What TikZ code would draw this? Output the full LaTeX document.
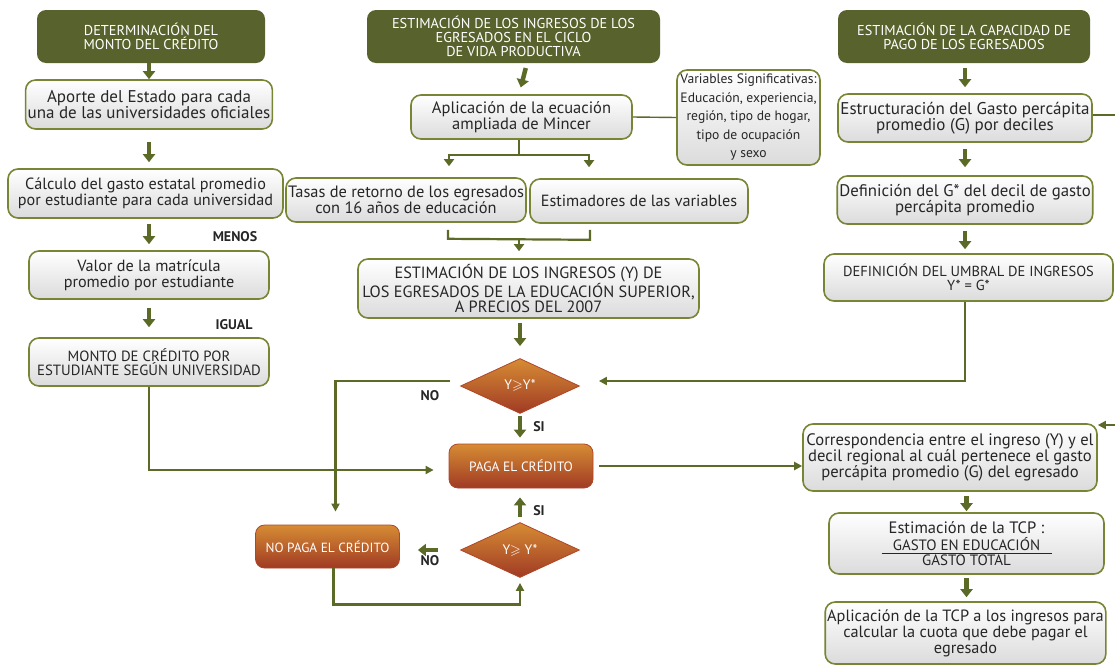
\documentclass[tikz,border=0pt]{standalone}
\usepackage{fontspec}
\setmainfont{PT Sans}
\usepackage{amssymb}
\usetikzlibrary{shapes.geometric,arrows.meta,calc}
\definecolor{olv}{RGB}{92,106,40}
\definecolor{hdrc}{RGB}{88,98,44}
\definecolor{bordc}{RGB}{118,134,52}
\definecolor{ortop}{RGB}{214,140,52}
\definecolor{orbot}{RGB}{160,58,36}
\definecolor{orbord}{RGB}{176,70,40}
\begin{document}
\begin{tikzpicture}[x=1pt,y=-1pt,
  hdr/.style={rounded corners=9pt, fill=hdrc, text=white, align=center, inner sep=2pt,
    font=\fontsize{14.3}{14}\selectfont},
  bx/.style={rounded corners=10pt, draw=bordc, line width=1.6pt, top color=white,
    bottom color=black!14, align=center, inner sep=2pt, text=black!85,
    font=\fontsize{16.5}{16.5}\selectfont},
  dec/.style={diamond, draw=orbord, line width=0.8pt, top color=ortop, bottom color=orbot,
    text=white, inner sep=0pt, minimum width=119, minimum height=55,
    font=\fontsize{13.8}{14}\selectfont},
  obx/.style={rounded corners=9pt, draw=orbord, line width=0.8pt, top color=ortop,
    bottom color=orbot, text=white, align=center, inner sep=2pt},
  fat/.style={draw=olv, line width=4.5pt, -{Triangle[width=12pt,length=8pt]}},
  mid/.style={draw=olv, line width=2.2pt, -{Triangle[width=10pt,length=7pt]}},
  conn/.style={draw=olv, line width=2.2pt, -{Triangle[width=8pt,length=8pt]}},
  plain/.style={draw=olv, line width=2.2pt},
  lbl/.style={font=\bfseries\fontsize{14}{14}\selectfont, text=black!85}
]
\useasboundingbox (0,0) rectangle (1115,664);

% headers
\node[hdr, minimum width=228, minimum height=53] (H1) at (151,36.5)
  {DETERMINACIÓN DEL\\MONTO DEL CRÉDITO};
\node[hdr, minimum width=293, minimum height=53] (H2) at (513.5,36.5)
  {ESTIMACIÓN DE LOS INGRESOS DE LOS\\EGRESADOS EN EL CICLO\\DE VIDA PRODUCTIVA};
\node[hdr, minimum width=252, minimum height=53] (H3) at (964,36.5)
  {ESTIMACIÓN DE LA CAPACIDAD DE\\PAGO DE LOS EGRESADOS};

% left column
\node[bx, minimum width=240, minimum height=49, font=\fontsize{17}{16.5}\selectfont] (A1) at (149,104.5)
  {Aporte del Estado para cada\\una de las universidades oficiales};
\node[bx, minimum width=275, minimum height=49, font=\fontsize{16.2}{16}\selectfont] (A2) at (145.5,193.5)
  {Cálculo del gasto estatal promedio\\por estudiante para cada universidad};
\node[bx, minimum width=240, minimum height=48, font=\fontsize{16.2}{16}\selectfont] (A3) at (149,275)
  {Valor de la matrícula\\promedio por estudiante};
\node[bx, minimum width=240, minimum height=48, font=\fontsize{14.8}{14.5}\selectfont] (A4) at (149,362)
  {MONTO DE CRÉDITO POR\\ESTUDIANTE SEGÚN UNIVERSIDAD};
\node[lbl] (menos) at (235,237) {MENOS};
\node[lbl] (igual) at (234,325) {IGUAL};

% middle column
\node[bx, minimum width=221, minimum height=44] (M1) at (521.5,117)
  {Aplicación de la ecuación\\ampliada de Mincer};
\node[bx, minimum width=143, minimum height=95, font=\fontsize{13.6}{18.5}\selectfont] (V) at (748.5,117.5)
  {Variables Significativas:\\Educación, experiencia,\\región, tipo de hogar,\\tipo de ocupación\\y sexo};
\node[bx, minimum width=240, minimum height=44, font=\fontsize{16.4}{15}\selectfont] (M2) at (406,200)
  {Tasas de retorno de los egresados\\con 16 años de educación};
\node[bx, minimum width=218, minimum height=44, font=\fontsize{16.2}{16}\selectfont] (M3) at (639,201)
  {Estimadores de las variables};
\node[bx, minimum width=341, minimum height=59, font=\fontsize{16.3}{14.5}\selectfont] (M4) at (528.5,288.5)
  {ESTIMACIÓN DE LOS INGRESOS (Y) DE\\LOS EGRESADOS DE LA EDUCACIÓN SUPERIOR,\\A PRECIOS DEL 2007};
\node[dec] (D1) at (520,386) {Y$\geqslant$Y*};
\node[obx, minimum width=144, minimum height=44, font=\fontsize{13.5}{13.5}\selectfont] (PAGA) at (521,466)
  {PAGA EL CRÉDITO};
\node[dec] (D2) at (520,550) {Y$\geqslant$ Y*};
\node[obx, minimum width=144, minimum height=43, font=\fontsize{13.3}{13.5}\selectfont] (NOPAGA) at (327.5,546.5)
  {NO PAGA EL CRÉDITO};
\node[lbl] (no1) at (430,396) {NO};
\node[lbl] (si1) at (539,427) {SI};
\node[lbl] (si2) at (539,511) {SI};
\node[lbl] (no2) at (430,561) {NO};

% right column
\node[bx, minimum width=254, minimum height=48, font=\fontsize{17}{16}\selectfont] (R1) at (965,118)
  {Estructuración del Gasto percápita\\promedio (G) por deciles};
\node[bx, minimum width=254, minimum height=48, font=\fontsize{16.8}{16}\selectfont] (R2) at (965,200)
  {Definición del G* del decil de gasto\\percápita promedio};
\node[bx, minimum width=289, minimum height=47, font=\fontsize{14.5}{14.5}\selectfont] (R3) at (968.5,277.5)
  {DEFINICIÓN DEL UMBRAL DE INGRESOS\\Y* = G*};
\node[bx, minimum width=294, minimum height=67, font=\fontsize{16.6}{16}\selectfont] (R4) at (950,457.5)
  {Correspondencia entre el ingreso (Y) y el\\decil regional al cuál pertenece el gasto\\percápita promedio (G) del egresado};
\node[bx, minimum width=275, minimum height=61] (R5) at (966.5,543.5)
  {Estimación de la TCP :\\[1pt]{\fontsize{15}{12}\selectfont\underline{\makebox[170pt]{GASTO EN EDUCACIÓN}}}\\[-2pt]{\fontsize{15}{12}\selectfont GASTO TOTAL}};
\node[bx, minimum width=279, minimum height=62, font=\fontsize{16.3}{16}\selectfont] (R6) at (965.5,633)
  {Aplicación de la TCP a los ingresos para\\calcular la cuota que debe pagar el\\egresado};

\coordinate (e1) at (1115,115);
\coordinate (e2) at (1115,425);

% fat arrows
\draw[fat] (H1.south -| A1) -- (A1.north);
\draw[fat, shorten <=12pt, shorten >=6pt] (A1.south) -- (A1.south |- A2.north);
\draw[fat, shorten <=5pt, shorten >=6pt] (A2.south -| A3.north) -- (A3.north);
\draw[fat, shorten <=8pt, shorten >=10pt] (A3.south) -- (A4.north);
\draw[fat, shorten <=5pt, shorten >=7pt] (H2.south -| M1.north) ++(5.5,0) -- ([xshift=-2.5pt]M1.north);
\draw[fat, shorten <=4pt, shorten >=12pt] (M4.south -| D1.north) -- (D1.north);
\draw[fat, shorten <=2pt, shorten >=6pt] (D1.south) -- (D1.south |- PAGA.north);
\draw[fat, shorten <=5pt, shorten >=9pt] (D2.north) -- (D2.north |- PAGA.south);
\draw[fat, shorten <=22pt, shorten >=18pt] (D2.west) -- (NOPAGA.east |- D2.west);
\draw[fat, shorten <=5pt, shorten >=6pt] (H3.south -| R1.north) -- (R1.north);
\draw[fat, shorten <=6pt, shorten >=8pt] (R1.south) -- (R2.north);
\draw[fat, shorten <=6pt, shorten >=4pt] (R2.south) -- (R2.south |- R3.north);
\draw[fat, shorten <=4pt, shorten >=1pt] (R4.south -| R5.north) -- (R5.north);
\draw[fat, shorten <=3pt, shorten >=4pt] (R5.south) -- (R5.south |- R6.north);

% split below M1
\draw[plain] ([xshift=-2.5pt]M1.south) -- ++(0,15) coordinate (sm);
\draw[plain] ($(sm)+(-70,0)$) -- ($(sm)+(70,0)$);
\draw[mid] ($(sm)+(-70,-1.1)$) -- ($(sm |- M2.north)+(-70,-11)$);
\draw[mid] ($(sm)+(70,-1.1)$) -- ($(sm |- M3.north)+(70,-11)$);
% bracket above M4
\draw[plain] ($(M2.south)+(42,7)$) coordinate (bl) -- ++(0,9) coordinate (bm) -- ($(M3.south)+(-49,16)$) -- ($(M3.south)+(-49,6)$);
\draw[mid, shorten >=7pt] ($(bl |- bm)+(71,0)$) -- ($(bl |- M4.north)+(71,0)$);

% thin connectors
\draw[draw=olv, line width=1.4pt] (M1.east) -- (V.west);
\draw[conn, shorten >=15pt] (A4.south) |- ([yshift=-4pt]PAGA.west);
\draw[conn, shorten <=10pt, shorten >=13pt] ([yshift=5pt]D1.west) -| ([xshift=8pt]NOPAGA.north);
\draw[conn, shorten >=5pt] ([xshift=6pt]NOPAGA.south) -- ++(0,36) -| (D2.south);
\draw[conn, shorten >=19pt] (R3.south -| R2.south) |- ([yshift=5pt]D1.east);
\draw[conn, shorten <=6pt] (PAGA.east) -- (PAGA.east -| R4.west);
\draw[plain, line width=1.4pt] ([yshift=3pt]R1.east) -- ([yshift=3pt]R1.east -| e1);
\draw[conn, line width=1.8pt] (e2) -- (e2 -| R4.east);
\end{tikzpicture}
\end{document}
